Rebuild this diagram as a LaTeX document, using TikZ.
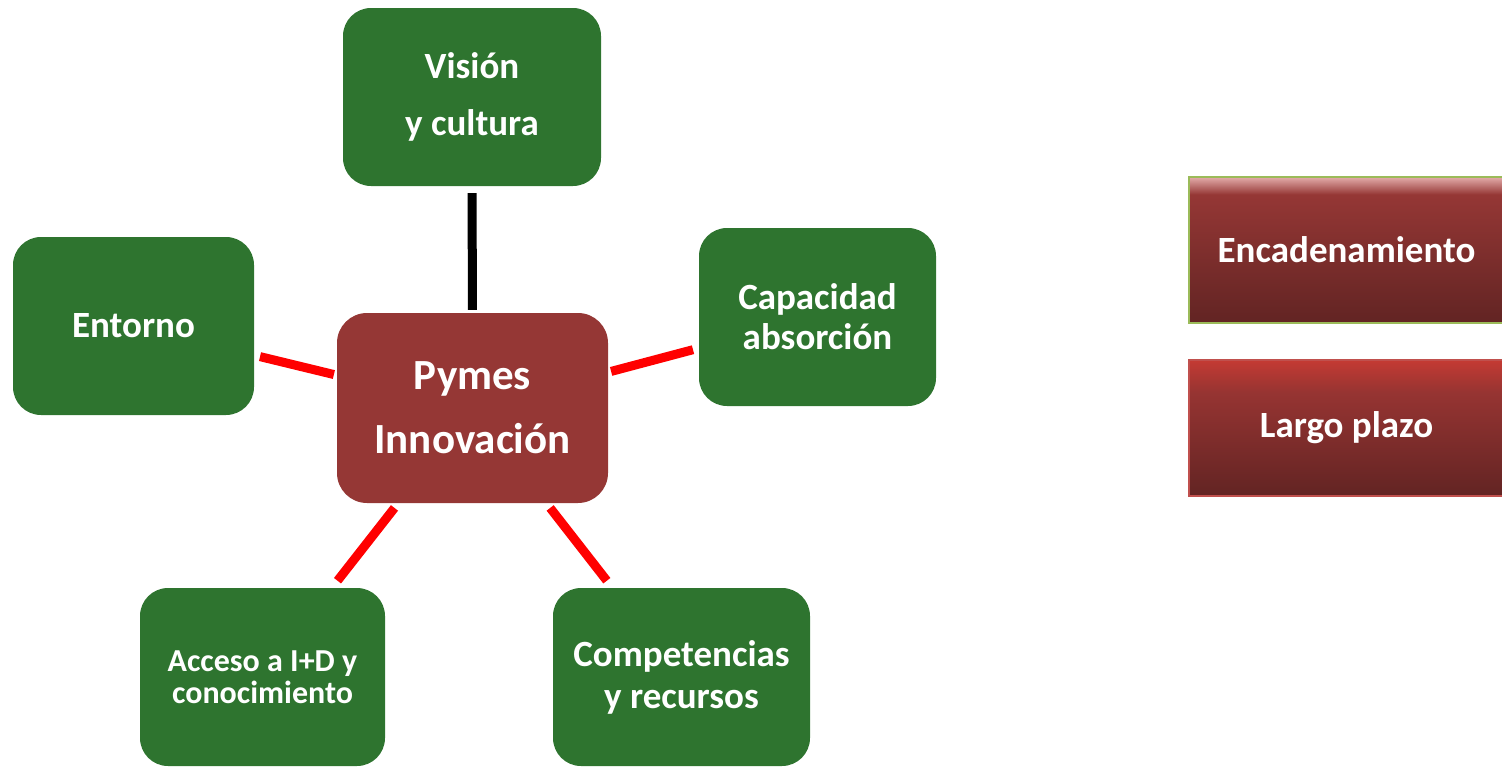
\documentclass[tikz,border=0pt]{standalone}
\usepackage{fontspec}
\setmainfont{Carlito}
\definecolor{pymegreen}{HTML}{2E742F}
\definecolor{pymered}{HTML}{953735}
\definecolor{spokered}{HTML}{FF0000}
\definecolor{encedge}{HTML}{9BBB59}
\definecolor{laredge}{HTML}{C0504D}
\definecolor{shadebot}{HTML}{622423}
\definecolor{encmid}{HTML}{953735}
\definecolor{enctop}{HTML}{E3ACAA}
\definecolor{larmid}{HTML}{963432}
\definecolor{lartop}{HTML}{C43A33}
\pgfdeclareverticalshading{encshade}{100bp}{color(0bp)=(shadebot); color(25bp)=(shadebot);
  color(69bp)=(encmid); color(75bp)=(enctop); color(100bp)=(enctop)}
\pgfdeclareverticalshading{larshade}{100bp}{color(0bp)=(shadebot); color(25bp)=(shadebot);
  color(63bp)=(larmid); color(75bp)=(lartop); color(100bp)=(lartop)}
\tikzset{every node/.style={font=\bfseries\fontsize{37}{40}\selectfont,text=white,
    align=center,inner sep=0pt},
  factor/.style={fill=pymegreen,rounded corners=28pt,minimum height=178pt},
  core/.style={fill=pymered,rounded corners=30pt,minimum width=271pt,minimum height=190pt,
    font=\bfseries\fontsize{43}{64}\selectfont},
  tag/.style={line width=2pt,minimum width=315pt},
  spoke/.style={draw=spokered,line width=9pt}}

\begin{document}
\begin{tikzpicture}[x=1pt,y=-1pt]
  \path[use as bounding box] (0,0) rectangle (1502,766);
  % centre and the five factors
  \node[core] (pymes) at (472.5,408) {Pymes\\Innovación};
  \node[factor,minimum width=258pt,font=\bfseries\fontsize{37}{57}\selectfont]
    (vision) at (472,97) {Visión\\y cultura};
  \node[factor,minimum width=241pt] (entorno) at (133.5,326) {Entorno};
  \node[factor,minimum width=237pt] (capacidad) at (817.5,317) {Capacidad\\absorción};
  \node[factor,minimum width=245pt,font=\bfseries\fontsize{32}{32}\selectfont]
    (acceso) at (262.5,677) {Acceso a I+D y\\conocimiento};
  \node[factor,minimum width=257pt,font=\bfseries\fontsize{37}{42}\selectfont]
    (competencias) at (681.5,677) {Competencias\\y recursos};
  % side boxes
  \node[tag,draw=encedge,shading=encshade,minimum height=146pt]
    (encadenamiento) at (1346.5,250) {Encadenamiento};
  \node[tag,draw=laredge,shading=larshade,minimum height=136pt]
    (largo) at (1346.5,428) {Largo plazo};
  % spokes
  \draw[spoke,draw=black,shorten <=7pt,shorten >=3pt] (vision) -- (pymes);
  \draw[spoke,shorten <=6pt,shorten >=3pt] (entorno) -- (pymes);
  \draw[spoke,shorten <=3pt,shorten >=6pt] (pymes) -- (capacidad);
  \draw[spoke,shorten <=6pt,shorten >=9pt] (pymes) -- (acceso);
  \draw[spoke,shorten <=6pt,shorten >=9pt] (pymes) -- (competencias);
\end{tikzpicture}
\end{document}
